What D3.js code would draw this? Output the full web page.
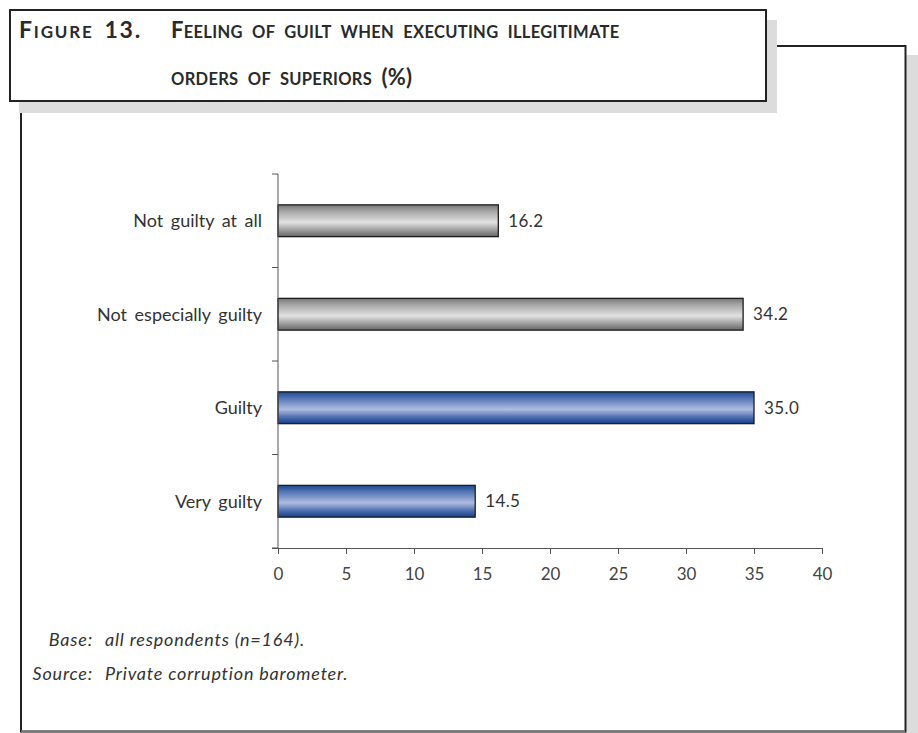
<!DOCTYPE html>
<html>
<head>
<meta charset="utf-8">
<script src="https://cdn.jsdelivr.net/npm/d3@7"></script>
<style>
  html, body { margin: 0; padding: 0; background: #fff; }
  svg { display: block; }
</style>
</head>
<body>
<svg id="chart" width="918" height="733"></svg>
<script>
// Survey answers, top to bottom
const categories = ["Not guilty at all", "Not especially guilty", "Guilty", "Very guilty"];
const values = [16.2, 34.2, 35.0, 14.5];
// Which palette each bar uses (grey for "not guilty" answers, blue for "guilty")
const groups = ["grey", "grey", "blue", "blue"];
const xTicks = [0, 5, 10, 15, 20, 25, 30, 35, 40];
const titleLead = "Figure 13.";
const titleLines = ["Feeling of guilt when executing illegitimate", "orders of superiors (%)"];
const notes = [["Base:", "all respondents (n=164)."], ["Source:", "Private corruption barometer."]];

const svg = d3.select("#chart");
const FONT = "Lato, 'Open Sans', sans-serif";

// ---- frame, title box and drop shadows ----
const shade = "#dcdcdc";
svg.append("rect").attr("x", 906).attr("y", 55).attr("width", 12).attr("height", 678).attr("fill", shade);
svg.append("path")
  .attr("d", "M21,112 V731.5 H905.5 V46 H776")
  .attr("fill", "none").attr("stroke", "#222").attr("stroke-width", 2);
svg.append("line").attr("x1", 21).attr("x2", 905).attr("y1", 731.5).attr("y2", 731.5)
  .attr("stroke", "#777").attr("stroke-width", 2);
svg.append("rect").attr("x", 19).attr("y", 20).attr("width", 758).attr("height", 93).attr("fill", shade);
svg.append("rect").attr("x", 10).attr("y", 10).attr("width", 756).attr("height", 91)
  .attr("fill", "#fff").attr("stroke", "#222").attr("stroke-width", 2);

// Small-caps title: capitals, digits and symbols at full size,
// lower-case letters as smaller capitals.
function smallCaps(sel, str, big, small) {
  const runs = [];
  for (const ch of str) {
    const isSmall = /[a-z]/.test(ch);
    const size = ch === " " ? small : (isSmall ? small : big);
    const last = runs[runs.length - 1];
    if (last && last.size === size) last.text += ch;
    else runs.push({ size, text: ch });
  }
  runs.forEach(r => sel.append("tspan").attr("font-size", r.size).text(r.text.toUpperCase()));
}

const title = svg.append("g")
  .attr("font-family", FONT).attr("font-weight", 700).attr("fill", "#2a2a2a")
  .attr("letter-spacing", 0.3).attr("word-spacing", 5);
smallCaps(title.append("text").attr("x", 19).attr("y", 38).attr("letter-spacing", 1.8),
  titleLead, 23, 17);
titleLines.forEach((t, i) => {
  smallCaps(title.append("text").attr("x", 171).attr("y", 38 + i * 47), t, 22, 16.5);
});

// ---- chart area ----
const x = d3.scaleLinear().domain([0, 40]).range([278, 822]);
const y = d3.scaleBand().domain(categories).range([174, 548]).padding(0);
const barH = y.bandwidth() * 0.34;

const defs = svg.append("defs");
const palettes = {
  grey: [["0%", "#777"], ["20%", "#a5a5a5"], ["55%", "#e2e2e2"], ["80%", "#9c9c9c"], ["100%", "#666"]],
  blue: [["0%", "#1b4a92"], ["20%", "#5474b6"], ["55%", "#aebde0"], ["80%", "#4d6db0"], ["100%", "#173f85"]]
};
Object.entries(palettes).forEach(([k, stops]) => {
  const g = defs.append("linearGradient").attr("id", "grad-" + k)
    .attr("x1", 0).attr("y1", 0).attr("x2", 0).attr("y2", 1);
  stops.forEach(([o, c]) => g.append("stop").attr("offset", o).attr("stop-color", c));
});

const data = categories.map((c, i) => ({ c, v: values[i], g: groups[i] }));

svg.append("g").selectAll("rect").data(data).join("rect")
  .attr("x", x(0))
  .attr("y", d => y(d.c) + (y.bandwidth() - barH) / 2)
  .attr("width", d => x(d.v) - x(0))
  .attr("height", barH)
  .attr("fill", d => `url(#grad-${d.g})`)
  .attr("stroke", "#1e1e1e").attr("stroke-width", 1.3);

// value labels
svg.append("g").selectAll("text").data(data).join("text")
  .attr("x", d => x(d.v) + 10)
  .attr("y", d => y(d.c) + y.bandwidth() / 2)
  .attr("dy", "0.35em")
  .attr("font-family", FONT).attr("font-size", 17).attr("letter-spacing", 0.4).attr("fill", "#333")
  .text(d => d.v.toFixed(1));

// x axis
const xAxis = svg.append("g").attr("transform", `translate(0,${548})`)
  .call(d3.axisBottom(x).tickValues(xTicks).tickSize(6).tickPadding(14).tickSizeOuter(0));
xAxis.select(".domain").attr("stroke", "#555").attr("d", `M${x(0) - 6},0.5H${x(40)}`);
xAxis.selectAll(".tick line").attr("stroke", "#555");
xAxis.selectAll("text").attr("font-family", FONT).attr("font-size", 17).attr("fill", "#444");

// y axis: tick marks on the band boundaries, labels centred on bands
const yAxis = svg.append("g").attr("transform", `translate(${x(0)},0)`);
yAxis.append("line").attr("y1", y.range()[0]).attr("y2", y.range()[1])
  .attr("stroke", "#555");
const edges = categories.map(c => y(c)).concat([y.range()[1]]);
yAxis.selectAll("line.edge").data(edges).join("line").attr("class", "edge")
  .attr("x1", -6).attr("x2", 0).attr("y1", d => d).attr("y2", d => d).attr("stroke", "#555");
yAxis.selectAll("text").data(categories).join("text")
  .attr("x", -16).attr("y", d => y(d) + y.bandwidth() / 2).attr("dy", "0.35em")
  .attr("text-anchor", "end")
  .attr("font-family", FONT).attr("font-size", 18).attr("word-spacing", 3).attr("fill", "#333")
  .text(d => d);

// footnotes
const foot = svg.append("g").attr("font-family", FONT).attr("font-style", "italic")
  .attr("font-size", 18).attr("letter-spacing", 0.8).attr("fill", "#333");
notes.forEach(([k, t], i) => {
  foot.append("text").attr("x", 93).attr("y", 646 + i * 34).attr("text-anchor", "end").text(k);
  foot.append("text").attr("x", 105).attr("y", 646 + i * 34).text(t);
});
</script>
</body>
</html>
